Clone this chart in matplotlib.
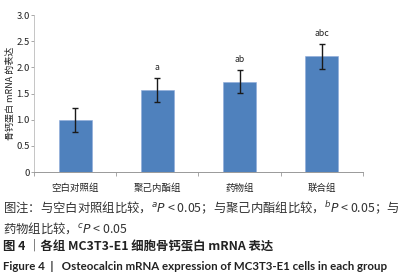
import matplotlib.pyplot as plt
import numpy as np

plt.rcParams['font.family'] = ['Noto Sans CJK SC', 'DejaVu Sans']
plt.rcParams['mathtext.fontset'] = 'dejavusans'

groups = ['空白对照组', '聚己内酯组', '药物组', '联合组']
means = [1.00, 1.56, 1.73, 2.21]
errs = [0.23, 0.23, 0.22, 0.24]
marks = ['', 'a', 'ab', 'abc']
yticks = [0, 0.5, 1.0, 1.5, 2.0, 2.5, 3.0]
ytick_labels = ['0', '0.5', '1.0', '1.5', '2.0', '2.5', '3.0']

fig = plt.figure(figsize=(4.12, 2.80), dpi=100)
ax = fig.add_axes([0.0825, 0.3857, 0.7985, 0.5603])

x = np.arange(len(groups))
ax.bar(x, means, width=0.4, color='#4F81BD', edgecolor='#8EAADB', linewidth=0.4,
       yerr=errs, error_kw=dict(ecolor='#1a1a1a', elinewidth=1.0, capsize=2.5, capthick=1.0))
for xi, m, e, t in zip(x, means, errs, marks):
    if t:
        ax.text(xi, m + e + 0.12, t, ha='center', va='bottom', fontsize=6.3, color='#222222')

ax.set_xlim(-0.5, 3.5)
ax.set_ylim(0, 3.0)
ax.set_yticks(yticks)
ax.set_yticklabels(ytick_labels, fontsize=6.8, color='#222222')
ax.set_xticks(np.arange(-0.5, 4.0, 1.0))
ax.set_xticklabels([])
ax.set_xticks(x, minor=True)
ax.set_xticklabels(groups, minor=True, fontsize=6.8, color='#222222')
ax.tick_params(axis='x', which='major', direction='out', length=3, width=0.6, color='#999999')
ax.tick_params(axis='x', which='minor', length=0, pad=8)
ax.tick_params(axis='y', direction='out', length=2, width=0.6, color='#999999', pad=1)
for s in ['top', 'right']:
    ax.spines[s].set_visible(False)
ax.spines['left'].set_color('#bbbbbb')
ax.spines['left'].set_linewidth(0.6)
ax.spines['bottom'].set_color('#999999')
ax.spines['bottom'].set_linewidth(0.7)
ax.set_ylabel('骨钙蛋白 mRNA 的表达', fontsize=6.5, labelpad=1, color='#222222')

fig.text(0.008, 0.257, '图注：与空白对照组比较，$^{a}\\mathit{P}$ < 0.05；与聚己内酯组比较，$^{b}\\mathit{P}$ < 0.05；与',
         fontsize=8.9, color='#333333', va='center')
fig.text(0.008, 0.186, '药物组比较，$^{c}\\mathit{P}$ < 0.05', fontsize=8.9, color='#333333', va='center')
fig.text(0.008, 0.121, '图 4 ｜各组 MC3T3-E1 细胞骨钙蛋白 mRNA 表达', fontsize=8.9,
         fontweight='bold', color='#222222', va='center')
fig.text(0.008, 0.050, 'Figure 4  |   Osteocalcin mRNA expression of MC3T3-E1 cells in each group',
         fontsize=8.3, fontweight='bold', color='#222222', va='center', family=['Lato', 'DejaVu Sans'])

fig.savefig('out.png', dpi=100)
